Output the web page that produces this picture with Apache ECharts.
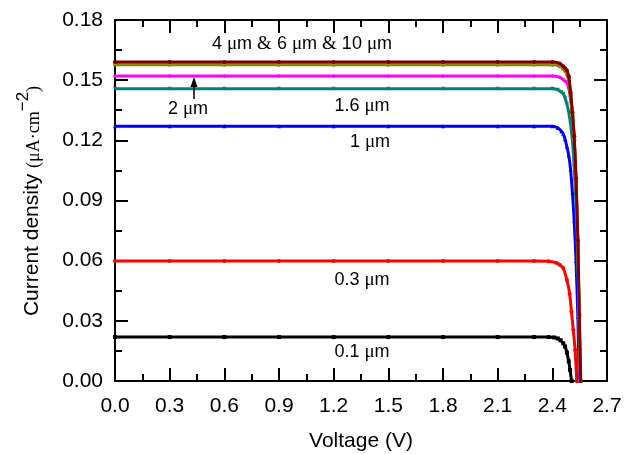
<!DOCTYPE html>
<html>
<head>
<meta charset="utf-8">
<script src="https://cdn.jsdelivr.net/npm/echarts@6/dist/echarts.min.js"></script>
<style>html,body{margin:0;padding:0;background:#fff}#c{width:628px;height:454px}</style>
</head>
<body>
<div id="c"></div>
<script>
// ---- data ----
const xTicks = [0.0, 0.3, 0.6, 0.9, 1.2, 1.5, 1.8, 2.1, 2.4, 2.7];
const yTicks = [0.00, 0.03, 0.06, 0.09, 0.12, 0.15, 0.18];

const V_01 = [0,0.3,0.6,0.9,1.2,1.5,1.8,2.1,2.3,2.38,2.41,2.43,2.445,2.46,2.47,2.48,2.49,2.497,2.506];
const J_01 = [0.0219,0.0219,0.0219,0.0219,0.0219,0.0219,0.0219,0.0219,0.0219,0.0219,0.0217,0.0212,0.0203,0.0188,0.0172,0.0142,0.0098,0.0055,0];

const V_03 = [0,0.3,0.6,0.9,1.2,1.5,1.8,2.1,2.3,2.38,2.42,2.44,2.46,2.48,2.495,2.505,2.515,2.525,2.534];
const J_03 = [0.0598,0.0598,0.0598,0.0598,0.0598,0.0598,0.0598,0.0598,0.0598,0.0597,0.0590,0.0580,0.0563,0.0503,0.0435,0.0345,0.0254,0.0155,0];

const V_1 = [0,0.3,0.6,0.9,1.2,1.5,1.8,2.1,2.3,2.40,2.43,2.45,2.46,2.47,2.48,2.49,2.50,2.51,2.52,2.53,2.54,2.547];
const J_1 = [0.1270,0.1270,0.1270,0.1270,0.1270,0.1270,0.1270,0.1270,0.1270,0.1270,0.1262,0.1245,0.1232,0.1205,0.1168,0.1125,0.1055,0.0940,0.0800,0.0600,0.0320,0];

const V_16 = [0,0.3,0.6,0.9,1.2,1.5,1.8,2.1,2.3,2.40,2.43,2.45,2.46,2.47,2.48,2.49,2.50,2.51,2.52,2.53,2.54,2.548,2.553];
const J_16 = [0.1457,0.1457,0.1457,0.1457,0.1457,0.1457,0.1457,0.1457,0.1457,0.1457,0.1452,0.1440,0.1432,0.1410,0.1380,0.1340,0.1280,0.1200,0.1070,0.0880,0.0600,0.0300,0];

const V_2 = [0,0.3,0.6,0.9,1.2,1.5,1.8,2.1,2.3,2.40,2.44,2.46,2.47,2.48,2.49,2.50,2.51,2.52,2.53,2.54,2.546,2.552];
const J_2 = [0.1521,0.1521,0.1521,0.1521,0.1521,0.1521,0.1521,0.1521,0.1521,0.1521,0.1515,0.1503,0.1495,0.1488,0.1460,0.1410,0.1335,0.1200,0.0990,0.0680,0.0330,0];

const V_4 = [0,0.3,0.6,0.9,1.2,1.5,1.8,2.1,2.3,2.40,2.44,2.46,2.47,2.48,2.49,2.50,2.51,2.52,2.53,2.54,2.547,2.554];
const J_4 = [0.1577,0.1577,0.1577,0.1577,0.1577,0.1577,0.1577,0.1577,0.1577,0.1577,0.1570,0.1556,0.1545,0.1530,0.1500,0.1420,0.1320,0.1200,0.0990,0.0680,0.0320,0];

const V_6 = [0,0.3,0.6,0.9,1.2,1.5,1.8,2.1,2.3,2.40,2.44,2.46,2.47,2.48,2.49,2.50,2.51,2.52,2.53,2.54,2.548,2.555];
const J_6 = [0.1585,0.1585,0.1585,0.1585,0.1585,0.1585,0.1585,0.1585,0.1585,0.1585,0.1578,0.1565,0.1555,0.1542,0.1512,0.1432,0.1332,0.1212,0.1002,0.0692,0.0326,0];

const V_10 = [0,0.3,0.6,0.9,1.2,1.5,1.8,2.1,2.3,2.40,2.44,2.46,2.47,2.48,2.49,2.50,2.51,2.52,2.53,2.54,2.548,2.556];
const J_10 = [0.1590,0.1590,0.1590,0.1590,0.1590,0.1590,0.1590,0.1590,0.1590,0.1590,0.1583,0.1570,0.1560,0.1548,0.1520,0.1440,0.1340,0.1220,0.1010,0.0700,0.0330,0];

const seriesNames = ['0.1 μm','0.3 μm','1 μm','1.6 μm','2 μm','4 μm','6 μm','10 μm'];
const seriesV = [V_01, V_03, V_1, V_16, V_2, V_4, V_6, V_10];
const seriesJ = [J_01, J_03, J_1, J_16, J_2, J_4, J_6, J_10];
const seriesColors = ['#000000','#ff0000','#0000ff','#008080','#ff00ff','#808000','#9a9a20','#800000'];
const seriesSymbols = ['rect','circle','triangle','path://M0,0L10,0L5,10Z','diamond','circle','rect','circle'];

// ---- chart ----
const chart = echarts.init(document.getElementById('c'), null, {renderer: 'canvas'});
const FONT = 'Liberation Sans';
const SERIF = 'Liberation Serif';

const series = seriesNames.map((n, i) => ({
  name: n,
  type: 'line',
  data: seriesV[i].map((v, k) => [v, seriesJ[i][k]]),
  smooth: 0.2,
  showSymbol: true,
  symbol: seriesSymbols[i],
  symbolSize: 4,
  itemStyle: {color: seriesColors[i]},
  lineStyle: {color: seriesColors[i], width: 3},
  emphasis: {disabled: true},
  animation: false,
  z: 2 + i
}));

const axisCommon = {
  axisLine: {show: true, onZero: false, lineStyle: {color: '#000', width: 2}},
  axisTick: {show: true, inside: true, length: 13, lineStyle: {color: '#000', width: 2}},
  minorTick: {show: true, splitNumber: 2, length: 7, lineStyle: {color: '#000', width: 2}},
  splitLine: {show: false}
};

const lbl = (x, y, txt) => ({
  type: 'text', x: x, y: y, z: 30,
  style: {text: txt, align: 'center', verticalAlign: 'middle',
    font: '18px "Liberation Sans"', fill: '#000',
    rich: {u: {fontFamily: SERIF, fontSize: 19, fill: '#000'}}}
});

const option = {
  backgroundColor: '#fff',
  animation: false,
  grid: {left: 115, right: 21, top: 20, bottom: 73, containLabel: false, outerBoundsMode: 'none'},
  xAxis: [
    Object.assign({}, axisCommon, {
      type: 'value', min: xTicks[0], max: xTicks[xTicks.length - 1], interval: 0.3,
      position: 'bottom',
      name: 'Voltage (V)', nameLocation: 'middle', nameGap: 50,
      nameTextStyle: {fontFamily: FONT, fontSize: 21, color: '#000'},
      axisLabel: {margin: 15, fontFamily: FONT, fontSize: 21, color: '#000',
        formatter: v => v.toFixed(1)}
    }),
    Object.assign({}, axisCommon, {
      type: 'value', min: xTicks[0], max: xTicks[xTicks.length - 1], interval: 0.3,
      position: 'top', axisLabel: {show: false}
    })
  ],
  yAxis: [
    Object.assign({}, axisCommon, {
      type: 'value', min: yTicks[0], max: yTicks[yTicks.length - 1], interval: 0.03,
      position: 'left',
      axisLabel: {margin: 12, fontFamily: FONT, fontSize: 21, color: '#000',
        formatter: v => v.toFixed(2)}
    }),
    Object.assign({}, axisCommon, {
      type: 'value', min: yTicks[0], max: yTicks[yTicks.length - 1], interval: 0.03,
      position: 'right', axisLabel: {show: false}
    })
  ],
  series: series,
  graphic: [
    {
      type: 'text', x: 29, y: 201, rotation: Math.PI / 2, z: 30,
      style: {
        text: '{a|Current density }{b|(μA·cm}{c|−2}{b|)}',
        align: 'center', verticalAlign: 'middle',
        rich: {
          a: {fontFamily: FONT, fontSize: 21, fill: '#000', lineHeight: 28, verticalAlign: 'bottom'},
          b: {fontFamily: SERIF, fontSize: 18, fill: '#000', lineHeight: 28, verticalAlign: 'bottom'},
          c: {fontFamily: FONT, fontSize: 17, fill: '#000', lineHeight: 28, verticalAlign: 'top'}
        }
      }
    },
    lbl(302, 44, '4 {u|μ}m {u|&} 6 {u|μ}m {u|&} 10 {u|μ}m'),
    lbl(188, 109, '2 {u|μ}m'),
    lbl(362, 106, '1.6 {u|μ}m'),
    lbl(370, 142, '1 {u|μ}m'),
    lbl(362, 280, '0.3 {u|μ}m'),
    lbl(362, 352, '0.1 {u|μ}m'),
    {type: 'line', shape: {x1: 194, y1: 99, x2: 194, y2: 84}, style: {stroke: '#000', lineWidth: 1.5}, z: 20},
    {type: 'polygon', shape: {points: [[194, 77], [190.5, 87], [197.5, 87]]}, style: {fill: '#000'}, z: 20}
  ]
};
chart.setOption(option);
</script>
</body>
</html>
